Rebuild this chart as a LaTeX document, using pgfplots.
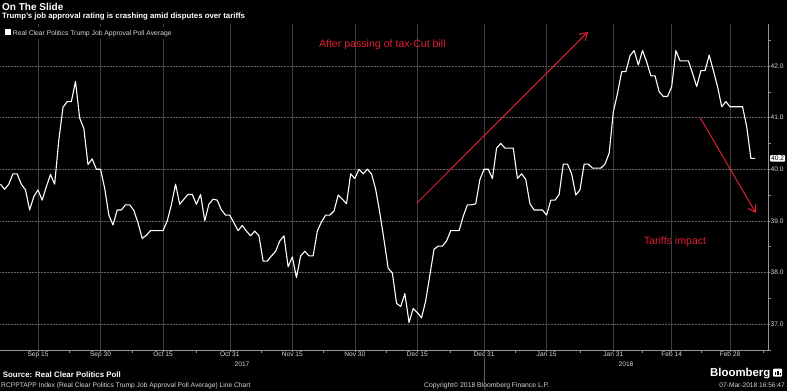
\documentclass[border=0pt]{standalone}
\usepackage{pgfplots}
\pgfplotsset{compat=1.18}
\usetikzlibrary{arrows.meta}
\usepackage{fontspec}
\setmainfont{Liberation Sans}
\definecolor{annred}{RGB}{225,30,50}
\definecolor{gridv}{RGB}{62,62,62}
\definecolor{gridh}{RGB}{95,95,95}
\definecolor{axisgray}{RGB}{150,150,150}
\definecolor{lbl}{RGB}{215,215,215}

\pgfplotstableread{
d v
-9 39.71
-8 39.61
-7 39.71
-6 39.91
-5 39.91
-4 39.71
-3 39.60
-2 39.21
-1 39.47
0 39.60
1 39.40
2 39.66
3 39.90
4 39.71
5 40.57
6 41.20
7 41.31
8 41.31
9 41.70
10 40.99
11 40.79
12 40.09
13 40.20
14 40.00
15 40.00
16 39.63
17 39.11
18 38.92
19 39.21
20 39.21
21 39.31
22 39.31
23 39.20
24 38.96
25 38.66
26 38.72
27 38.81
28 38.81
29 38.81
30 38.81
31 39.00
32 39.31
33 39.71
34 39.32
35 39.42
36 39.51
37 39.51
38 39.32
39 39.51
40 39.00
41 39.32
42 39.42
43 39.40
44 39.21
45 39.11
46 39.11
47 38.96
48 38.81
49 38.91
50 38.80
51 38.71
52 38.80
53 38.71
54 38.22
55 38.22
56 38.32
57 38.41
58 38.61
59 38.71
60 38.11
61 38.30
62 37.90
63 38.32
64 38.41
65 38.32
66 38.32
67 38.80
68 38.98
69 39.11
70 39.11
71 39.19
72 39.50
73 39.42
74 39.33
75 39.91
76 39.82
77 40.00
78 39.91
79 40.00
80 39.91
81 39.61
82 39.15
83 38.63
84 38.08
85 37.99
86 37.40
87 37.34
88 37.59
89 37.03
90 37.30
91 37.22
92 37.12
93 37.45
94 37.95
95 38.45
96 38.51
97 38.51
98 38.61
99 38.81
100 38.81
101 38.81
102 39.09
103 39.31
104 39.31
105 39.33
106 39.80
107 40.00
108 40.00
109 39.82
110 40.41
111 40.50
112 40.41
113 40.41
114 40.41
115 39.82
116 39.91
117 39.80
118 39.33
119 39.21
120 39.21
121 39.21
122 39.11
123 39.40
124 39.40
125 39.51
126 40.10
127 40.10
128 39.91
129 39.50
130 39.60
131 40.10
132 40.10
133 40.02
134 40.02
135 40.02
136 40.10
137 40.31
138 41.11
139 41.47
140 41.89
141 41.89
142 42.20
143 42.30
144 42.02
145 42.30
146 42.08
147 41.81
148 41.81
149 41.50
150 41.41
151 41.41
152 41.60
153 42.30
154 42.10
155 42.10
156 42.10
157 41.86
158 41.60
159 41.91
160 41.91
161 42.21
162 41.91
163 41.60
164 41.21
165 41.31
166 41.21
167 41.21
168 41.21
169 41.21
170 40.82
171 40.21
172 40.21
}\rcp

\begin{document}
\begin{tikzpicture}
\useasboundingbox (0,0) rectangle (787pt,391pt);
\fill[black] (0,0) rectangle (787pt,391pt);
\begin{axis}[
  at={(0pt,41pt)}, anchor=south west, scale only axis,
  width=768pt, height=326pt,
  xmin=-9.11, xmax=175.1, ymin=36.496, ymax=42.814,
  clip=false,
  axis x line*=bottom, axis y line*=right,
  axis line style={axisgray, line width=0.6pt},
  tick align=outside,
  major tick length=2pt, minor tick length=2.5pt,
  tick style={axisgray, line width=0.5pt},
  xtick={0,15,30,46,61,76,91,107,122,138,152,166},
  xticklabels={Sep 15,Sep 30,Oct 15,Oct 31,Nov 15,Nov 30,Dec 15,Dec 31,Jan 15,Jan 31,Feb 14,Feb 28},
  minor xtick={7.5,22.5,38,53.5,68.5,83.5,99,114.5,130,145,159,174},
  ytick={37,38,39,40,41,42},
  minor ytick={36.5,37.5,38.5,39.5,40.5,41.5,42.5},
  xmajorgrids, ymajorgrids,
  x grid style={gridv, line width=0.5pt},
  y grid style={gridh, line width=0.5pt, densely dotted},
  ticklabel style={font=\fontsize{6.6}{8}\selectfont, text=lbl},
  xticklabel style={anchor=north, inner sep=0pt, yshift=0.5pt},
  yticklabel style={anchor=west, inner sep=0pt, xshift=0.5pt},
  /pgf/number format/assume math mode=true,
  y tick label style={/pgf/number format/.cd, fixed, fixed zerofill, precision=1},
]
\addplot[white, line width=1.1pt, line join=round] table[x=d, y=v] {\rcp};
% year separator tick
\draw[axisgray, line width=0.5pt] (axis cs:107,36.496) -- ++(0,-12pt);
% annotations
\draw[annred, line width=1pt, -{Straight Barb[length=7pt,width=9pt]}] (axis cs:90.9,39.345) -- (axis cs:131.9,42.66);
\draw[annred, line width=1pt, -{Straight Barb[length=7pt,width=9pt]}] (axis cs:158.9,40.99) -- (axis cs:172.2,39.15);
\node[annred, font=\fontsize{10.6}{12}\selectfont, anchor=base] at (axis cs:82.6,42.36) {After passing of tax-Cut bill};
\node[annred, font=\fontsize{10.6}{12}\selectfont, anchor=base] at (axis cs:152.8,38.55) {Tariffs impact};
% last value
\node[fill=white, text=black, anchor=west, inner sep=1pt, rounded corners=1pt, font=\fontsize{6.6}{8}\selectfont] at ([xshift=2pt]axis cs:175.1,40.21) {40.2};
\end{axis}
% titles
\node[anchor=base west, inner sep=0pt, text=white, font=\bfseries\fontsize{10}{12}\selectfont] at (2pt,380pt) {On The Slide};
\node[anchor=base west, inner sep=0pt, text=white, font=\bfseries\fontsize{7.8}{9}\selectfont] at (2pt,372pt) {Trump's job approval rating is crashing amid disputes over tariffs};
% legend
\fill[black] (3pt,352pt) rectangle (177pt,364pt);
\fill[white] (5pt,355.7pt) rectangle (10.7pt,361.7pt);
\node[anchor=base west, inner sep=0pt, text=lbl, font=\fontsize{6.8}{8}\selectfont] at (12.7pt,355.7pt) {Real Clear Politics Trump Job Approval Poll Average};
% year labels
\node[anchor=base, inner sep=0pt, text=lbl, font=\fontsize{6.6}{8}\selectfont] at (242pt,25pt) {2017};
\node[anchor=base, inner sep=0pt, text=lbl, font=\fontsize{6.6}{8}\selectfont] at (626pt,25pt) {2018};
% footer
\node[anchor=base west, inner sep=0pt, text=white, font=\bfseries\fontsize{7.9}{9}\selectfont] at (2.7pt,13.7pt) {Source: Real Clear Politics Poll};
\node[anchor=base west, inner sep=0pt, text=lbl, font=\fontsize{6.7}{8}\selectfont] at (1pt,3.7pt) {RCPPTAPP Index (Real Clear Politics Trump Job Approval Poll Average) Line Chart};
\node[anchor=base west, inner sep=0pt, text=lbl, font=\fontsize{6.8}{8}\selectfont] at (424pt,3.7pt) {Copyright© 2018 Bloomberg Finance L.P.};
\node[anchor=base east, inner sep=0pt, text=lbl, font=\fontsize{6.6}{8}\selectfont] at (785pt,3.7pt) {07-Mar-2018 16:56:47};
\node[anchor=base west, inner sep=0pt, text=white, font=\bfseries\fontsize{11.4}{13}\selectfont] at (710pt,14.3pt) {Bloomberg};
\fill[white, rounded corners=0.8pt] (773pt,14.3pt) rectangle (782pt,22.3pt);
\fill[black] (775pt,16pt) rectangle (776.2pt,19pt);
\fill[black] (777.4pt,16pt) rectangle (778.6pt,20.5pt);
\fill[black] (779.8pt,16pt) rectangle (781pt,18pt);
\end{tikzpicture}
\end{document}
